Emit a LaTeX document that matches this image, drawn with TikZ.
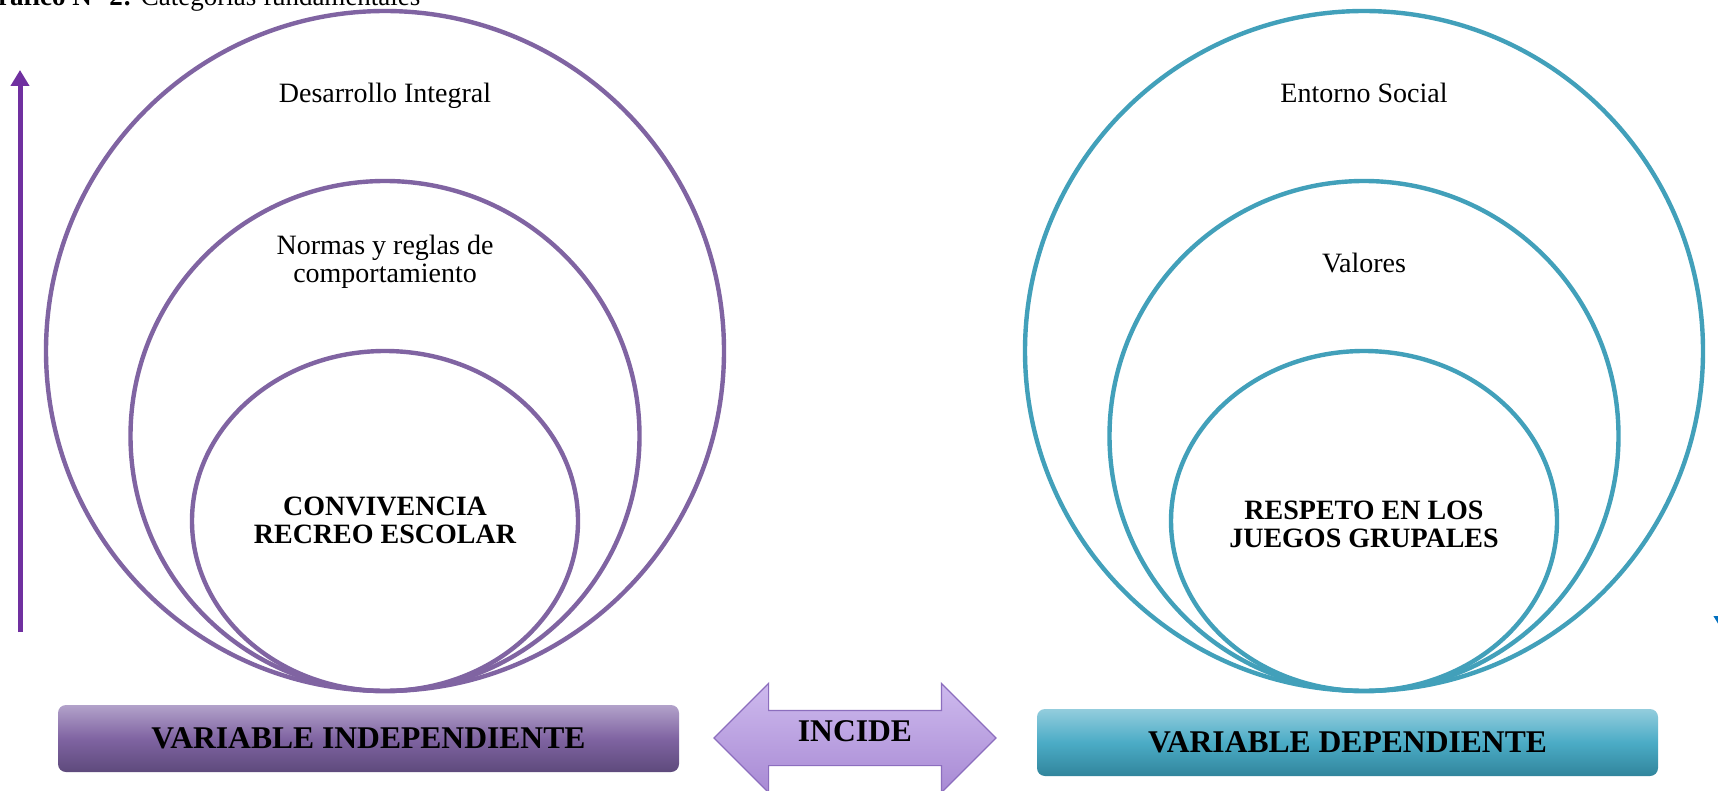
\documentclass[tikz,border=0pt]{standalone}
\usepackage{fontspec}
\setmainfont{Liberation Serif}
\usepackage{xcolor}
\definecolor{ringpurple}{RGB}{128,100,162}
\definecolor{ringteal}{RGB}{66,160,186}
\definecolor{arrowpurple}{RGB}{112,48,160}
\definecolor{arrowblue}{RGB}{0,112,192}
\definecolor{boxpurpletop}{RGB}{178,162,202}
\definecolor{boxpurplemid}{RGB}{128,100,162}
\definecolor{boxpurplebot}{RGB}{94,74,124}
\definecolor{boxtealtop}{RGB}{147,205,221}
\definecolor{boxtealmid}{RGB}{75,172,198}
\definecolor{boxtealbot}{RGB}{49,133,156}
\definecolor{incidetop}{RGB}{206,186,238}
\definecolor{incidebot}{RGB}{168,138,212}
\definecolor{incideline}{RGB}{140,110,190}
\usepackage{tikz}
\usetikzlibrary{shapes.geometric}
\usetikzlibrary{shapes.arrows}
\usetikzlibrary{arrows.meta}
\newcommand{\widthbox}{310.5pt}
\newcommand{\heightbox}{33.5pt}
\newcommand{\fontring}{\fontsize{14}{14}\selectfont}
\newcommand{\fontvar}{\fontsize{15.8}{16}\selectfont\bfseries}
\tikzset{
    ring/.style={draw, ellipse, inner sep=0pt, line width=2.2pt},
    ring-l/.style={ring, draw=ringpurple},
    ring-r/.style={ring, draw=ringteal},
    ringtext/.style={align=center, font=\fontring},
    ringcore/.style={align=center, font=\fontring\bfseries},
    varbox/.style={rounded corners=4pt, inner sep=0pt, minimum width=\widthbox, minimum height=\heightbox, font=\fontvar},
    varbox-l/.style={varbox, top color=boxpurpletop, bottom color=boxpurplebot, middle color=boxpurplemid},
    varbox-r/.style={varbox, top color=boxtealtop, bottom color=boxtealbot, middle color=boxtealmid},
    incide/.style={double arrow, double arrow head extend=13.5pt, minimum height=141pt,
        inner xsep=0pt, inner ysep=0pt, text height=15pt, text depth=12pt,
        draw=incideline, line width=0.6pt, top color=incidetop, bottom color=incidebot, font=\fontvar},
    sidearrow/.style={line width=2.5pt, -{Triangle[width=9pt, length=8pt]}}
}

\begin{document}
\begin{tikzpicture}[x=0.5pt, y=-0.5pt]
    \useasboundingbox[fill=white] (0,0) rectangle (1718,791);

    \node[anchor=base west, font=\fontsize{13.5}{14}\selectfont] (title) at (-30,6)
        {\textbf{Gráfico N° 2:} Categorías fundamentales};

    \node[ring-l, minimum width=339pt, minimum height=340pt] (outerL) at (385,351) {};
    \node[ring-l, minimum width=254.5pt, minimum height=255pt] (midL) at (385,436) {};
    \node[ring-l, minimum width=193pt, minimum height=170pt] (coreL) at (385,521) {};
    \node[ring-r, minimum width=339pt, minimum height=340pt] (outerR) at (1364,351) {};
    \node[ring-r, minimum width=254.5pt, minimum height=255pt] (midR) at (1364,436) {};
    \node[ring-r, minimum width=193pt, minimum height=170pt] (coreR) at (1364,521) {};

    \node[ringtext, anchor=base] (integral) at (385,103) {Desarrollo Integral};
    \node[ringtext] (normas) at (385,262) {Normas y reglas de\\comportamiento};
    \node[ringcore] (convivencia) at (385,520) {CONVIVENCIA\\RECREO ESCOLAR};
    \node[ringtext, anchor=base] (entorno) at (1364,103) {Entorno Social};
    \node[ringtext] (valores) at (1364,263) {Valores};
    \node[ringcore] (respeto) at (1364,524) {RESPETO EN LOS\\JUEGOS GRUPALES};

    \coordinate (lowL) at (20,632);
    \coordinate (highL) at (20,70);
    \coordinate (highR) at (1723,72);
    \coordinate (lowR) at (1723,632);
    \draw[sidearrow, arrowpurple] (lowL) -- (highL);
    \draw[sidearrow, arrowblue] (highR) -- (lowR);

    \node[varbox-l] (varind) at (368.5,738.5) {VARIABLE INDEPENDIENTE};
    \node[varbox-r] (vardep) at (1347.5,742.5) {VARIABLE DEPENDIENTE};
    \node[incide] (incide) at (855,738) {INCIDE};
\end{tikzpicture}
\end{document}
